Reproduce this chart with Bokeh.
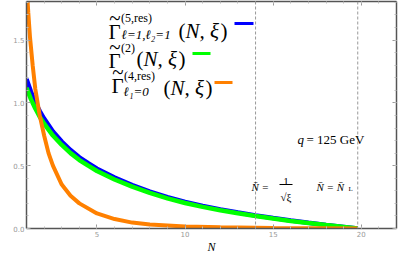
from bokeh.plotting import figure
from bokeh.models import Range1d, LinearAxis, Label, Span, BoxAnnotation, FixedTicker, NumeralTickFormatter
from bokeh.embed import file_html
from bokeh.resources import INLINE

# ---- data ----
N_main = [1.0, 1.25, 1.5, 1.75, 2.0, 2.5, 3.0, 3.5, 4.0, 4.5, 5.0, 6.0, 7.0, 8.0, 9.0, 10, 11, 12, 13, 14, 15, 16, 17, 18, 19, 19.8]
gamma_res5 = [1.19, 1.09, 1.005, 0.935, 0.875, 0.772, 0.692, 0.624, 0.567, 0.52, 0.476, 0.405, 0.346, 0.294, 0.25, 0.212, 0.18, 0.152, 0.127, 0.104, 0.083, 0.063, 0.045, 0.028, 0.013, 0.0]
gamma_2 = [1.12, 1.03, 0.955, 0.89, 0.835, 0.74, 0.665, 0.6, 0.545, 0.5, 0.458, 0.39, 0.333, 0.283, 0.24, 0.203, 0.172, 0.145, 0.121, 0.099, 0.079, 0.06, 0.043, 0.027, 0.012, 0.0]
N_res4 = [1.0, 1.1, 1.2, 1.35, 1.5, 1.75, 2.0, 2.25, 2.5, 3.0, 3.5, 4.0, 5.0, 6.0, 7.0, 8.0, 10, 12, 15, 19.8]
gamma_res4 = [1.95, 1.72, 1.52, 1.3, 1.11, 0.9, 0.74, 0.6, 0.5, 0.35, 0.26, 0.2, 0.12, 0.075, 0.047, 0.031, 0.016, 0.009, 0.004, 0.0]
nbar_lines = [14.0, 19.8]
x_ticks = [5, 10, 15, 20]
y_ticks = [0.0, 0.5, 1.0, 1.5]

W, H = 399, 256
FL, FB = 26, 230  # frame left / bottom in page pixels
p = figure(width=W, height=H, x_range=Range1d(1, 22.0), y_range=Range1d(0, 1.807),
           output_backend="svg", toolbar_location=None,
           min_border_left=26, min_border_right=3, min_border_top=1, min_border_bottom=26)
p.outline_line_color = None
p.xgrid.grid_line_color = None
p.ygrid.grid_line_color = None
p.background_fill_color = "white"

bottom = p.below[0]
left = p.left[0]

xt = FixedTicker(ticks=x_ticks, minor_ticks=list(range(1, 23)))
yt = FixedTicker(ticks=y_ticks, minor_ticks=[i / 10 for i in range(0, 19)])
bottom.ticker = xt
left.ticker = yt
left.formatter = NumeralTickFormatter(format="0.0")

top = LinearAxis(ticker=xt)
right = LinearAxis(ticker=yt)
p.add_layout(top, "above")
p.add_layout(right, "right")

for ax in [bottom, left, top, right]:
    ax.axis_line_color = "#555555"
    ax.axis_line_width = 1.5
    ax.major_tick_in = 4
    ax.major_tick_out = 0
    ax.minor_tick_in = 2
    ax.minor_tick_out = 0
    ax.major_tick_line_color = "#999999"
    ax.minor_tick_line_color = "#bbbbbb"
    ax.major_label_text_font = "DejaVu Sans"
    ax.major_label_text_font_size = "7px"
    ax.major_label_text_color = "#999999"
    ax.major_label_standoff = 3
for ax in [top, right]:
    ax.major_label_text_color = None
    ax.major_label_text_font_size = "1px"
    ax.major_label_standoff = 0
left.major_label_standoff = 2

bottom.major_label_standoff = 2
bottom.axis_label = "N"
bottom.axis_label_text_font = "Liberation Serif"
bottom.axis_label_text_font_style = "italic"
bottom.axis_label_text_font_size = "12px"
bottom.axis_label_text_color = "black"
bottom.axis_label_standoff = 0

for v in nbar_lines:
    p.add_layout(Span(location=v, dimension="height", line_color="#999999", line_dash="3 2", line_width=1))

p.line(N_main, gamma_res5, line_color="#0000ff", line_width=4.5)
p.line(N_main, gamma_2, line_color="#00ff00", line_width=4.5)
p.line(N_res4, gamma_res4, line_color="#ff8000", line_width=4)

SERIF = "Liberation Serif"


def lab(text, px, py, size, style="normal", color="black", align="left"):
    p.add_layout(Label(x=px - FL, y=FB - py, x_units="screen", y_units="screen", text=text,
                       text_font=SERIF, text_font_size=f"{size}px", text_font_style=style,
                       text_color=color, text_baseline="alphabetic", text_align=align))


def box(x0, x1, y0, y1, color):
    p.add_layout(BoxAnnotation(left=x0 - FL, right=x1 - FL, top=FB - y0, bottom=FB - y1,
                               left_units="screen", right_units="screen", top_units="screen",
                               bottom_units="screen", fill_color=color, fill_alpha=1, line_color=None))


def gamma(px, py):
    lab("Γ", px, py, 21)
    lab("~", px + 6.5, py - 14, 21, align="center")


def args(px, py):
    lab("(", px, py, 21)
    lab("N, ξ", px + 7, py, 21, "italic")
    lab(")", px + 42, py, 21)


# legend line 1
gamma(108, 33)
lab("(5,res)", 120.5, 19, 12)
lab("ℓ=1,ℓ₂=1", 121, 36, 13, "italic")
args(178, 32)
box(234, 253, 23.5, 26.5, "#0000ff")
# legend line 2
gamma(108, 62)
lab("(2)", 120.5, 49, 12)
args(136, 60)
box(192, 210, 53.5, 56.5, "#00ff00")
# legend line 3
gamma(111, 87)
lab("(4,res)", 123.5, 77, 12)
lab("ℓ₁=0", 123, 93, 13, "italic")
args(163, 89)
box(214, 232, 82.5, 85.5, "#ff8000")

# q label
lab("q", 297, 141, 13, "italic")
lab("= 125 GeV", 306, 141, 13)

# Nbar annotations
lab("N\u0304 =", 251, 188, 11, "italic")
lab("1", 285.5, 183, 11, align="center")
box(279, 292, 185.6, 186.4, "black")
lab("√ξ", 285.5, 198, 11, align="center")
lab("N\u0304 = N\u0304", 316, 188, 11, "italic")
lab("L", 348, 190, 7)

open("out.html", "w").write(file_html(p, INLINE))
